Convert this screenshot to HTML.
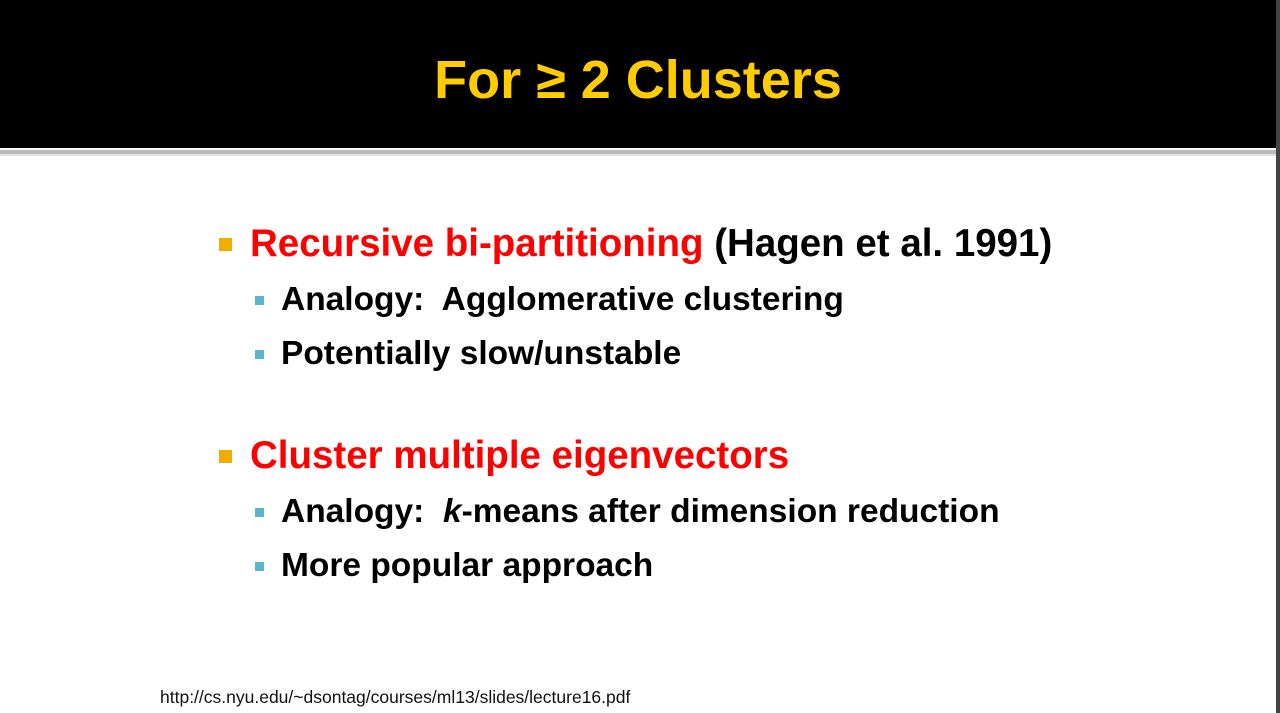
<!DOCTYPE html>
<html><head><style>
body{margin:0;width:1280px;height:713px;background:#fff;position:relative;overflow:hidden;font-family:"Liberation Sans",sans-serif;}
.hdr{position:absolute;left:0;top:0;width:1276px;height:148px;background:#000;}
.ln{position:absolute;left:0;top:150px;width:1276px;height:4px;background:#bbb;}
.ln2{position:absolute;left:0;top:154px;width:1276px;height:2px;background:#e4e4e4;}
.sb{position:absolute;left:1276px;top:0;width:4px;height:713px;background:#444;}
.title{position:absolute;left:0;width:1276px;top:50px;text-align:center;color:#ffcc00;font-weight:bold;font-size:54px;line-height:60px;}
.t{position:absolute;font-weight:bold;white-space:nowrap;line-height:40px;}
.l1{left:250px;font-size:38.5px;}
.l2{left:281px;font-size:33.5px;color:#000;}
.b1{position:absolute;left:219px;width:13px;height:13px;background:#f0ad00;}
.b2{position:absolute;left:255px;width:9px;height:9px;background:#5bb5cc;}
.red{color:#f00;}
.foot{position:absolute;left:160px;top:687px;font-size:17.5px;color:#111;}
</style></head><body>
<div class="hdr"></div><div class="ln"></div><div class="ln2"></div><div class="sb"></div>
<div class="title">For ≥ 2 Clusters</div>
<div class="b1" style="top:238px"></div>
<div class="t l1" style="top:224px"><span class="red">Recursive bi-partitioning</span> (Hagen et al. 1991)</div>
<div class="b2" style="top:296px"></div>
<div class="t l2" style="top:280px">Analogy:&nbsp; Agglomerative clustering</div>
<div class="b2" style="top:350px"></div>
<div class="t l2" style="top:334px">Potentially slow/unstable</div>
<div class="b1" style="top:450px"></div>
<div class="t l1 red" style="top:436px">Cluster multiple eigenvectors</div>
<div class="b2" style="top:508px"></div>
<div class="t l2" style="top:492px">Analogy:&nbsp; <i>k</i>-means after dimension reduction</div>
<div class="b2" style="top:562px"></div>
<div class="t l2" style="top:546px">More popular approach</div>
<div class="foot">http://cs.nyu.edu/~dsontag/courses/ml13/slides/lecture16.pdf</div>
</body></html>
